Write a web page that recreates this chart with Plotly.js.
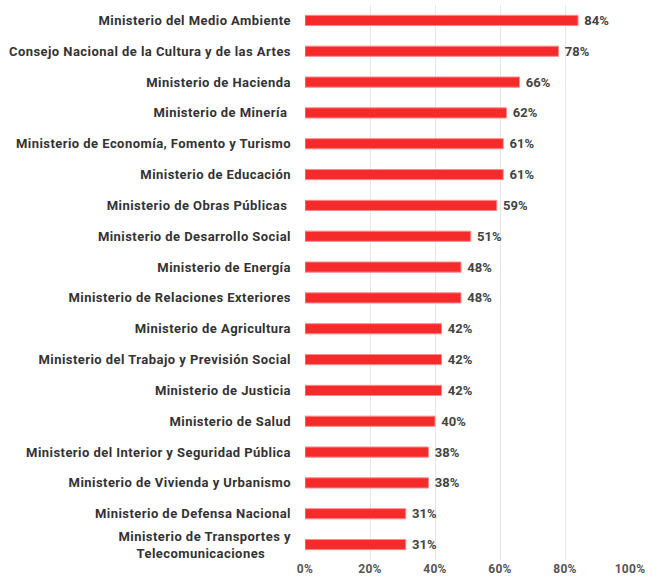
<!DOCTYPE html>
<html>
<head>
<meta charset="utf-8">
<script src="https://cdn.plot.ly/plotly-3.0.1.min.js"></script>
<style>
html,body{margin:0;padding:0;background:#fff;}
#chart{width:652px;height:585px;}
#chart .ytick text{letter-spacing:0.45px;}
#chart .xtick text{letter-spacing:0.3px;}
#chart .textpoint text{letter-spacing:0.4px;}
</style>
</head>
<body>
<div id="chart"></div>
<script>
var categories = [
  "Ministerio del Medio Ambiente",
  "Consejo Nacional de la Cultura y de las Artes",
  "Ministerio de Hacienda",
  "Ministerio de Minería\u00a0",
  "Ministerio de Economía, Fomento y Turismo",
  "Ministerio de Educación",
  "Ministerio de Obras Públicas\u00a0",
  "Ministerio de Desarrollo Social",
  "Ministerio de Energía",
  "Ministerio de Relaciones Exteriores",
  "Ministerio de Agricultura",
  "Ministerio del Trabajo y Previsión Social",
  "Ministerio de Justicia",
  "Ministerio de Salud",
  "Ministerio del Interior y Seguridad Pública",
  "Ministerio de Vivienda y Urbanismo",
  "Ministerio de Defensa Nacional",
  "Ministerio de Transportes y<br>Telecomunicaciones\u00a0\u00a0\u00a0\u00a0\u00a0\u00a0\u00a0"
];
var values = [84, 78, 66, 62, 61, 61, 59, 51, 48, 48, 42, 42, 42, 40, 38, 38, 31, 31];
var tickVals = [0, 20, 40, 60, 80, 100];
var tickText = ["0%", "20%", "40%", "60%", "80%", "100%"];

var barText = values.map(function (v) { return '\u00a0' + v + '%'; });

var trace = {
  type: 'bar',
  orientation: 'h',
  y: categories,
  x: values,
  text: barText,
  textposition: 'outside',
  constraintext: 'none',
  cliponaxis: false,
  marker: {color: '#F52B2B', line: {color: '#FF8A8A', width: 1}},
  width: 0.33,
  textfont: {family: 'Roboto', size: 13, color: '#444', weight: 'bold'},
  hoverinfo: 'none'
};

var layout = {
  width: 652, height: 585,
  margin: {l: 305, r: 22, t: 5, b: 25},
  paper_bgcolor: '#fff', plot_bgcolor: '#fff',
  showlegend: false,
  font: {family: 'Roboto', size: 13, color: '#333'},
  xaxis: {
    range: [0, 100],
    tickvals: tickVals, ticktext: tickText,
    showgrid: true, gridcolor: '#E6E6E6', gridwidth: 1,
    zeroline: false, showline: false,
    tickfont: {family: 'Roboto', size: 12, color: '#555', weight: 'bold'},
    fixedrange: true
  },
  yaxis: {
    type: 'category',
    autorange: 'reversed',
    showgrid: false, zeroline: false, showline: false,
    ticklabelstandoff: 13,
    tickfont: {family: 'Roboto', size: 13, color: '#333', weight: 'bold'},
    fixedrange: true
  }
};

Plotly.newPlot('chart', [trace], layout, {staticPlot: true, displayModeBar: false});
</script>
</body>
</html>
